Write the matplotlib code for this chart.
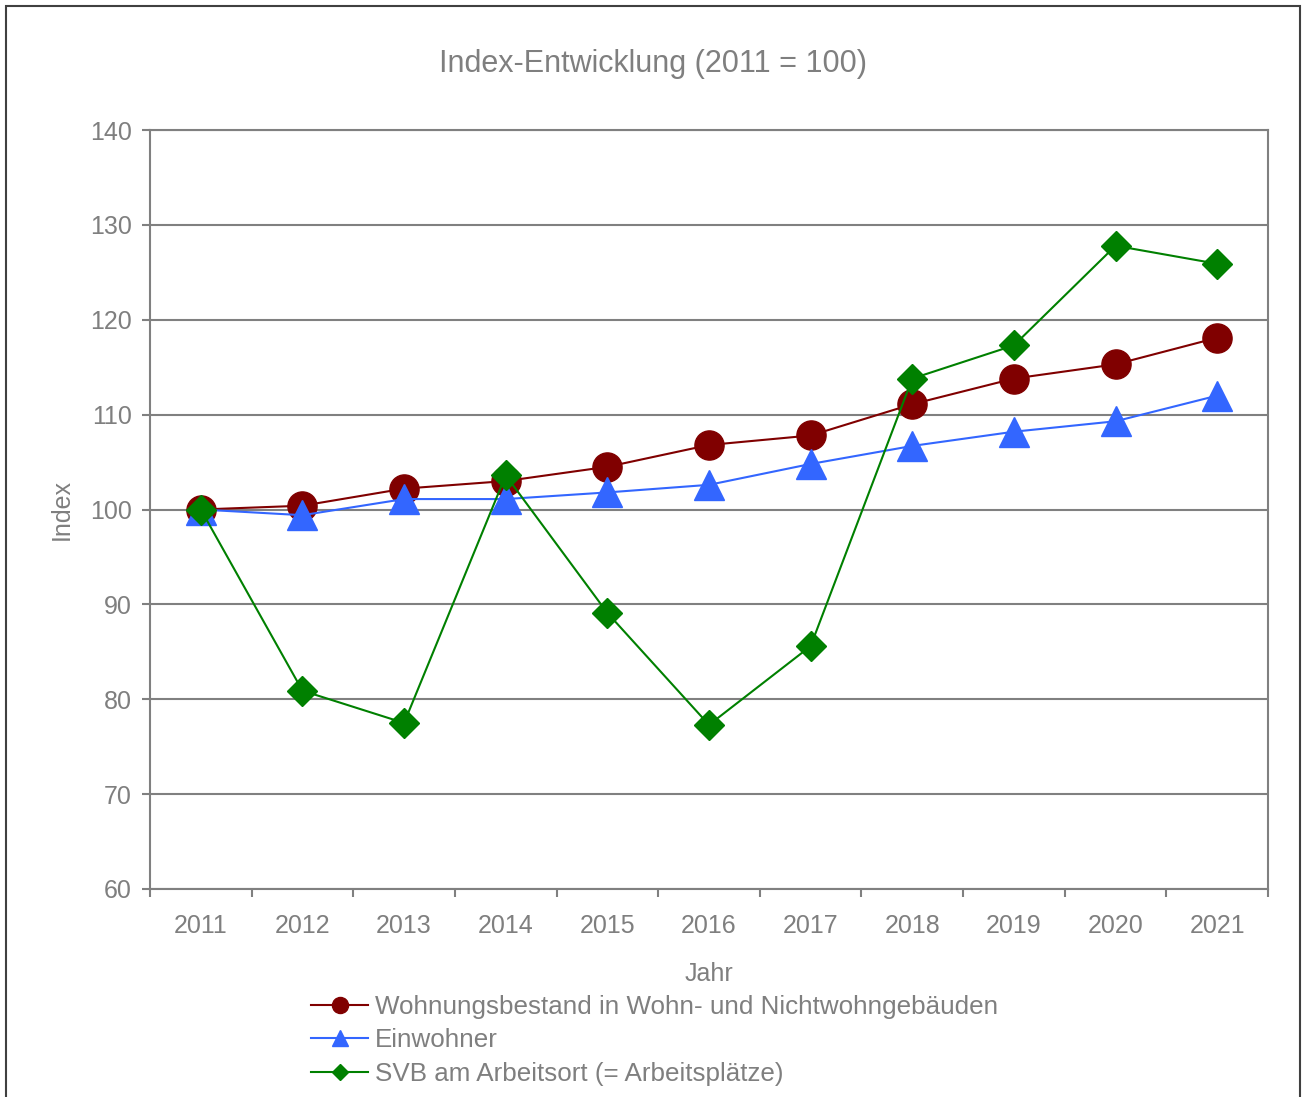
import matplotlib
matplotlib.use("Agg")
import matplotlib.pyplot as plt
from matplotlib.patches import Rectangle
import numpy as np

# data
jahre = ['2011', '2012', '2013', '2014', '2015', '2016', '2017', '2018', '2019', '2020', '2021']
wohnungen = [100.0, 100.4, 102.2, 103.0, 104.5, 106.8, 107.8, 111.1, 113.8, 115.3, 118.1]
einwohner = [100.0, 99.4, 101.1, 101.1, 101.8, 102.6, 104.8, 106.7, 108.2, 109.3, 112.0]
svb = [100.0, 80.9, 77.5, 103.6, 89.1, 77.3, 85.6, 113.8, 117.3, 127.8, 125.9]

grau = '#808080'
text_grau = '#7f7f7f'

plt.rcParams['font.family'] = ['Liberation Sans', 'DejaVu Sans']

fig = plt.figure(figsize=(13.02, 10.97), dpi=100)
ax = fig.add_axes([150/1302, 1 - 889/1097, (1268-150)/1302, (889-130)/1097])

x = np.arange(len(jahre))
ax.plot(x, wohnungen, color='#800000', lw=1.5, marker='o', ms=21,
        label='Wohnungsbestand in Wohn- und Nichtwohngebäuden', zorder=3)
ax.plot(x, einwohner, color='#3366ff', lw=1.5, marker='^', ms=21,
        label='Einwohner', zorder=4)
ax.plot(x, svb, color='#008000', lw=1.5, marker='D', ms=15,
        label='SVB am Arbeitsort (= Arbeitsplätze)', zorder=5)

ax.set_xlim(-0.5, len(jahre) - 0.5)
ax.set_ylim(60, 140)
ax.set_yticks(np.arange(60, 141, 10))
ax.yaxis.grid(True, color=grau, lw=1.5)
ax.set_axisbelow(True)

# category labels centered, tick marks at the boundaries
ax.set_xticks(x)
ax.set_xticklabels(jahre)
ax.set_xticks(np.arange(-0.5, len(jahre)), minor=True)
ax.tick_params(axis='x', which='major', length=0, pad=18, labelsize=18, labelcolor=text_grau)
ax.tick_params(axis='x', which='minor', length=6, width=1.5, color=grau, direction='out')
ax.tick_params(axis='y', length=6, width=1.5, color=grau, direction='out', pad=7,
               labelsize=18, labelcolor=text_grau)

for s in ax.spines.values():
    s.set_color(grau)
    s.set_linewidth(1.5)

fig.text(653/1302, 1 - 64/1097, 'Index-Entwicklung (2011 = 100)', fontsize=22,
         color=text_grau, ha='center', va='center')
ax.set_xlabel('Jahr', fontsize=18, color=text_grau, labelpad=17)
ax.set_ylabel('Index', fontsize=18, color=text_grau, labelpad=12)

fig.legend(loc='upper left', bbox_to_anchor=(311/1302, 1 - 995/1097), frameon=False,
           fontsize=18.7, labelcolor=text_grau, markerscale=0.55, handlelength=2.2,
           handletextpad=0.25, labelspacing=0.36, borderaxespad=0, borderpad=0)

# outer border of the chart
fig.patches.append(Rectangle((6/1302, -0.01), (1300-6)/1302, 1 - 6/1097 + 0.01,
                             transform=fig.transFigure, fill=False,
                             edgecolor='#404040', lw=1.5))

fig.savefig('out.png', dpi=100)
